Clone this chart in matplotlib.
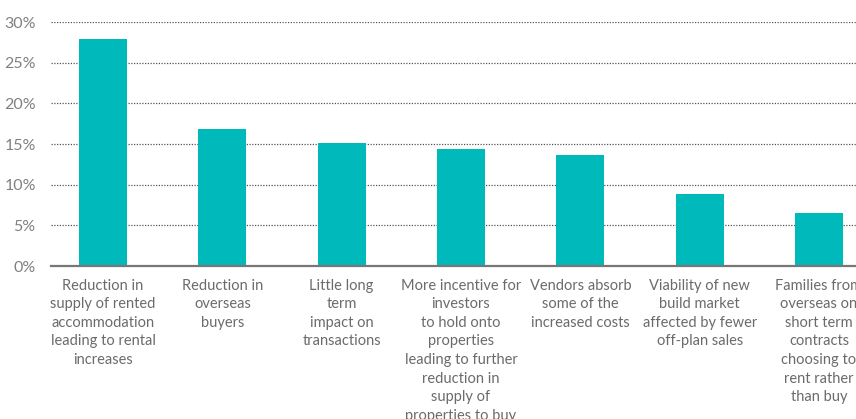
import matplotlib
matplotlib.use("Agg")
import matplotlib.pyplot as plt
from matplotlib.ticker import FuncFormatter

# impact categories and share of respondents (%)
categories = [
    "Reduction in\nsupply of rented\naccommodation\nleading to rental\nincreases",
    "Reduction in\noverseas\nbuyers",
    "Little long\nterm\nimpact on\ntransactions",
    "More incentive for\ninvestors\nto hold onto\nproperties\nleading to further\nreduction in\nsupply of\nproperties to buy",
    "Vendors absorb\nsome of the\nincreased costs",
    "Viability of new\nbuild market\naffected by fewer\noff-plan sales",
    "Families from\noverseas on\nshort term\ncontracts\nchoosing to\nrent rather\nthan buy",
]
shares = [27.9, 16.8, 15.1, 14.4, 13.6, 8.8, 6.5]
yticks = [0, 5, 10, 15, 20, 25, 30]

bar_color = "#00B9BA"
text_color = "#6b6b6b"
font = ["Lato", "DejaVu Sans"]

fig = plt.figure(figsize=(8.56, 4.19), dpi=100)
ax = fig.add_axes([51 / 856, 153 / 419, 820 / 856, 244 / 419])

x = list(range(len(shares)))
ax.bar(x, shares, width=0.4, color=bar_color, zorder=3)

ax.set_xlim(-0.436, len(shares) - 1 + 0.436)
ax.set_ylim(0, 30)
ax.set_yticks(yticks)
ax.yaxis.set_major_formatter(FuncFormatter(lambda v, p: f"{v:.0f}%"))
ax.yaxis.grid(True, linestyle=(0, (1, 1.2)), color="#555555", linewidth=0.9, zorder=0)
ax.tick_params(axis="y", length=0, pad=11, labelsize=11.5, labelcolor="#808080")
ax.tick_params(axis="x", length=0)
for lab in ax.get_yticklabels():
    lab.set_family(font)

ax.set_xticks(x)
ax.set_xticklabels([])
for xi, cat in zip(x, categories):
    ax.annotate(cat, xy=(xi, 0), xycoords="data", xytext=(0, -9),
                textcoords="offset points", ha="center", va="top",
                fontsize=10.5, color=text_color, family=font,
                linespacing=1.42, annotation_clip=False)

for side in ["top", "right", "left"]:
    ax.spines[side].set_visible(False)
ax.spines["bottom"].set_color("#777777")
ax.spines["bottom"].set_linewidth(1.6)
ax.spines["bottom"].set_zorder(4)

fig.savefig("out.png", dpi=100)
